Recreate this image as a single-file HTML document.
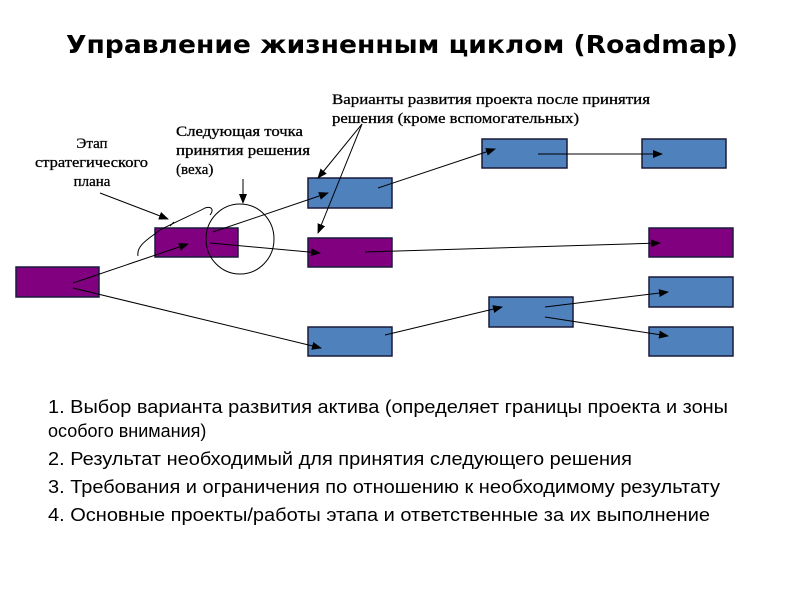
<!DOCTYPE html>
<html><head><meta charset="utf-8"><style>
html,body{margin:0;padding:0;background:#fff;width:800px;height:600px;overflow:hidden}
</style></head><body>
<svg width="800" height="600" xmlns="http://www.w3.org/2000/svg">
<defs>
<marker id="a" markerWidth="10" markerHeight="8" refX="9" refY="4" orient="auto" markerUnits="userSpaceOnUse">
<path d="M0,0 L10,4 L0,8 z" fill="#000"/></marker>
</defs>
<text x="402" y="53" text-anchor="middle" font-family="DejaVu Sans, sans-serif" font-weight="bold" font-size="25" textLength="672" lengthAdjust="spacingAndGlyphs">Управление жизненным циклом (Roadmap)</text>

<g stroke="#1a1a3a" stroke-width="1.5">
<rect x="16" y="267" width="83" height="30" fill="#800080"/>
<rect x="155" y="228" width="83" height="29" fill="#800080"/>
<rect x="308" y="178" width="84" height="30" fill="#4f81bd"/>
<rect x="308" y="238" width="84" height="29" fill="#800080"/>
<rect x="308" y="327" width="84" height="29" fill="#4f81bd"/>
<rect x="482" y="139" width="85" height="29" fill="#4f81bd"/>
<rect x="642" y="139" width="84" height="29" fill="#4f81bd"/>
<rect x="649" y="228" width="84" height="29" fill="#800080"/>
<rect x="489" y="297" width="84" height="30" fill="#4f81bd"/>
<rect x="649" y="277" width="84" height="30" fill="#4f81bd"/>
<rect x="649" y="327" width="84" height="29" fill="#4f81bd"/>
</g>

<g stroke="#000" stroke-width="1" fill="none">
<ellipse cx="240" cy="239" rx="34" ry="35"/>
<path d="M138,256 C136,245 150,238 160,230 C175,222 198,212 205,208 C212,206 214,210 210,215"/>
<path d="M170,226 L174,222"/>
</g>

<g stroke="#000" stroke-width="1" fill="none" marker-end="url(#a)">
<line x1="73" y1="283" x2="188" y2="244"/>
<line x1="73" y1="288" x2="321" y2="348"/>
<line x1="213" y1="232" x2="328" y2="193"/>
<line x1="210" y1="243" x2="320" y2="253"/>
<line x1="378" y1="188" x2="495" y2="149"/>
<line x1="538" y1="154" x2="662" y2="154"/>
<line x1="365" y1="252" x2="660" y2="243"/>
<line x1="385" y1="335" x2="502" y2="307"/>
<line x1="545" y1="307" x2="668" y2="292"/>
<line x1="545" y1="317" x2="668" y2="336"/>
<line x1="362" y1="124" x2="318" y2="178"/>
<line x1="362" y1="124" x2="318" y2="233"/>
<line x1="100" y1="193" x2="168" y2="219"/>
<line x1="243" y1="179" x2="243" y2="203"/>
</g>

<g font-family="Liberation Serif, serif" font-size="15" fill="#000" stroke="#000" stroke-width="0.3">
<text x="92" y="148" text-anchor="middle">Этап</text>
<text x="35" y="167" textLength="113" lengthAdjust="spacingAndGlyphs">стратегического</text>
<text x="92" y="186" text-anchor="middle">плана</text>
<text x="176" y="136" textLength="127" lengthAdjust="spacingAndGlyphs">Следующая точка</text>
<text x="176" y="155" textLength="134" lengthAdjust="spacingAndGlyphs">принятия решения</text>
<text x="176" y="174">(веха)</text>
<text x="332" y="104" textLength="318" lengthAdjust="spacingAndGlyphs">Варианты развития проекта после принятия</text>
<text x="332" y="123" textLength="247" lengthAdjust="spacingAndGlyphs">решения (кроме вспомогательных)</text>
</g>

<g font-family="Liberation Sans, sans-serif" font-size="18" fill="#000">
<text x="48" y="413" textLength="680" lengthAdjust="spacingAndGlyphs">1. Выбор варианта развития актива (определяет границы проекта и зоны</text>
<text x="48" y="437">особого внимания)</text>
<text x="48" y="465" textLength="584" lengthAdjust="spacingAndGlyphs">2. Результат необходимый для принятия следующего решения</text>
<text x="48" y="493" textLength="672" lengthAdjust="spacingAndGlyphs">3. Требования и ограничения по отношению к необходимому результату</text>
<text x="48" y="521" textLength="662" lengthAdjust="spacingAndGlyphs">4. Основные проекты/работы этапа и ответственные за их выполнение</text>
</g>
</svg>
</body></html>
